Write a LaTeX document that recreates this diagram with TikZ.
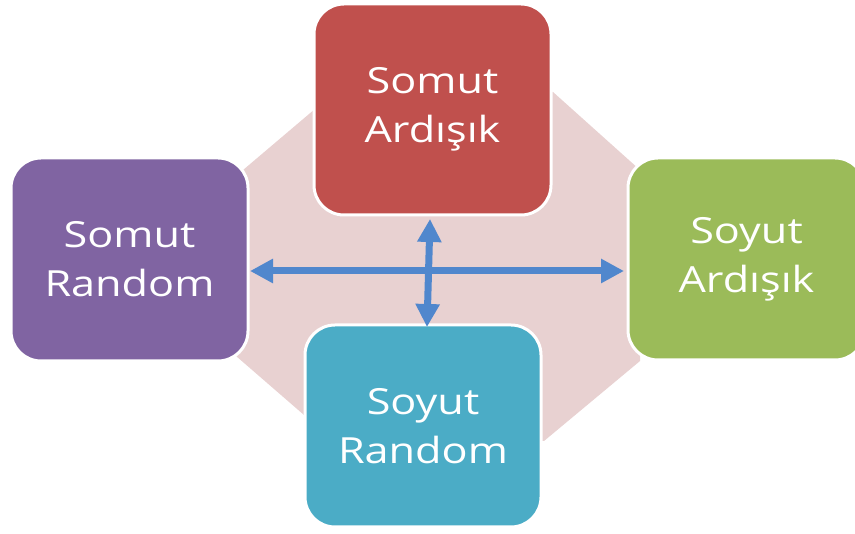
\documentclass[tikz,border=0pt]{standalone}
\usepackage{fontspec}
\setmainfont{Open Sans}[FakeStretch=1.2]
\usetikzlibrary{arrows.meta}
\definecolor{cred}{RGB}{192,80,77}
\definecolor{cpurple}{RGB}{128,100,162}
\definecolor{cgreen}{RGB}{155,187,89}
\definecolor{cteal}{RGB}{75,172,198}
\definecolor{carrow}{RGB}{80,135,205}
\definecolor{cpink}{RGB}{232,209,209}
\begin{document}
\begin{tikzpicture}[x=1pt,y=-1pt,
  box/.style={draw=white, line width=3pt, rounded corners=30pt, text=white,
    align=center, inner sep=0pt, minimum width=237pt,
    font=\fontsize{36}{49}\selectfont},
  link/.style={draw=carrow, line width=7pt,
    {Triangle[width=23pt,length=23pt]}-{Triangle[width=23pt,length=23pt]}}]
\useasboundingbox (0,0) rectangle (855,534);
\clip (0,0) rectangle (855,534);
\fill[cpink] (335,92) -- (553,92) -- (640,170) -- (640,361) -- (544,441)
  -- (334,441) -- (236,356) -- (236,176) -- cycle;
\node[box, fill=cred, minimum height=211pt] (sa) at (432.5,109.5) {Somut\\Ardışık};
\node[box, fill=cpurple, minimum height=203pt] (sr) at (129.5,259.5) {Somut\\Random};
\node[box, fill=cgreen, minimum height=202pt] (ya) at (746.5,259) {Soyut\\Ardışık};
\node[box, fill=cteal, minimum width=236pt, minimum height=202pt] (yr) at (423,426) {Soyut\\Random};
\draw[link] ([shift={(0.5,11.5)}]sr.east) -- ([shift={(-2.5,12)}]ya.west);
\draw[link] ([shift={(-2.5,2.5)}]sa.south) -- ([shift={(4,3.5)}]yr.north);
\end{tikzpicture}
\end{document}
